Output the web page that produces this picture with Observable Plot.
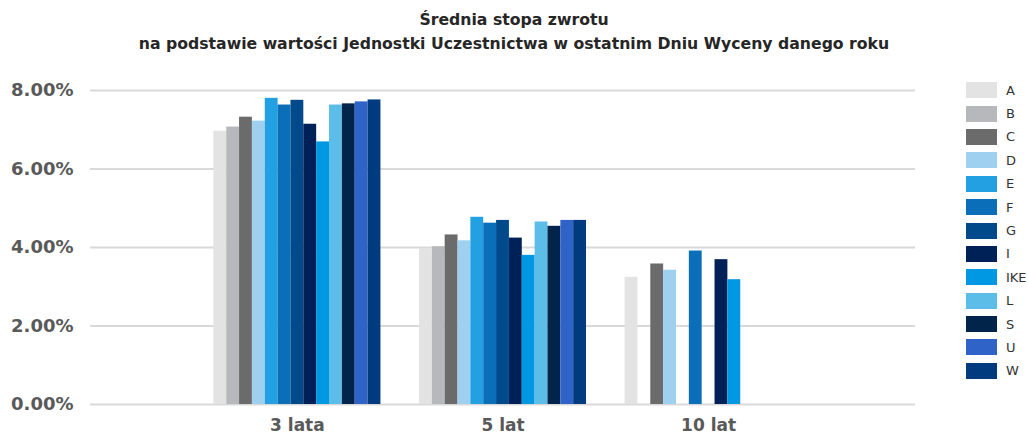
<!DOCTYPE html>
<html>
<head>
<meta charset="utf-8">
<script src="https://cdn.jsdelivr.net/npm/d3@7"></script>
<script src="https://cdn.jsdelivr.net/npm/@observablehq/plot@0.6"></script>
<style>
  html, body { margin: 0; padding: 0; background: #fff; }
  body { width: 1028px; height: 436px; position: relative; overflow: hidden; font-family: "DejaVu Sans", sans-serif; }
  #title { position: absolute; left: 0; top: 8px; width: 1028px; text-align: center; font-weight: bold; font-size: 15.7px; line-height: 24px; color: #262626; }
  #chart { position: absolute; left: 0; top: 60px; }
  #legend { position: absolute; left: 966px; top: 82px; }
  .item { display: flex; align-items: center; height: 23.4px; }
  .sw { width: 31px; height: 16px; margin-right: 9px; flex: none; margin-top: -7px; }
  .lb { font-size: 13px; color: #333; margin-top: -7px; }
</style>
</head>
<body>
<div id="title">Średnia stopa zwrotu<br>na podstawie wartości Jednostki Uczestnictwa w ostatnim Dniu Wyceny danego roku</div>
<div id="chart"></div>
<div id="legend"></div>
<script>
const groups = ["3 lata", "5 lat", "10 lat"];
const series = ["A", "B", "C", "D", "E", "F", "G", "I", "IKE", "L", "S", "U", "W"];
const values3 = [6.96, 7.07, 7.32, 7.22, 7.80, 7.63, 7.75, 7.14, 6.69, 7.63, 7.66, 7.71, 7.76];
const values5 = [3.97, 4.02, 4.32, 4.17, 4.77, 4.62, 4.69, 4.24, 3.80, 4.65, 4.54, 4.69, 4.69];
const values10 = [3.24, null, 3.58, 3.42, null, 3.91, null, 3.69, 3.18, null, null, null, null];
const colors = ["#e3e3e3", "#b7b8bb", "#6b6b6b", "#9fd0f0", "#22a0e2", "#0a6fb8", "#004a8c", "#002157", "#0098e3", "#5cbde9", "#00244a", "#3063c8", "#003a7f"];
const yTicks = [0, 2, 4, 6, 8];

const valuesByGroup = [values3, values5, values10];
const key = (g, s) => g + "|" + s;

// rows
const rows = [];
groups.forEach((g, gi) => series.forEach((s, si) => {
  const v = valuesByGroup[gi][si];
  if (v != null) rows.push({group: g, series: s, key: key(g, s), value: v});
}));

// band domain: series slots per group, with spacer slots between groups
const spacers = 3;
const domain = [];
groups.forEach((g, gi) => {
  series.forEach(s => domain.push(key(g, s)));
  if (gi < groups.length - 1) for (let k = 0; k < spacers; k++) domain.push(g + "|_gap" + k);
});
const mid = series[Math.floor(series.length / 2)];
const labelTicks = groups.map(g => key(g, mid));

const chart = Plot.plot({
  width: 940,
  height: 376,
  marginLeft: 90,
  marginRight: 25,
  marginTop: 30,
  marginBottom: 32,
  style: {fontFamily: "DejaVu Sans, sans-serif", background: "transparent"},
  x: {type: "band", domain, paddingInner: 0, paddingOuter: 9.6, axis: null},
  y: {domain: [0, 8], axis: null},
  color: {domain: series, range: colors},
  marks: [
    Plot.ruleY(yTicks, {stroke: "#d9d9d9", strokeWidth: 2}),
    Plot.barY(rows, {x: "key", y: "value", fill: "series"}),
    Plot.axisY({ticks: yTicks, tickSize: 0, tickPadding: 17, tickFormat: d => d.toFixed(2) + "%", fontSize: 18, fontWeight: "bold", fill: "#595959", label: null}),
    Plot.axisX({ticks: labelTicks, tickSize: 0, tickPadding: 14, tickFormat: k => k.split("|")[0], fontSize: 17, fontWeight: "bold", fill: "#595959", label: null})
  ]
});
document.getElementById("chart").appendChild(chart);

const legend = document.getElementById("legend");
series.forEach((s, i) => {
  const item = document.createElement("div");
  item.className = "item";
  const sw = document.createElement("div");
  sw.className = "sw";
  sw.style.background = colors[i];
  const lb = document.createElement("div");
  lb.className = "lb";
  lb.textContent = s;
  item.appendChild(sw);
  item.appendChild(lb);
  legend.appendChild(item);
});
</script>
</body>
</html>
